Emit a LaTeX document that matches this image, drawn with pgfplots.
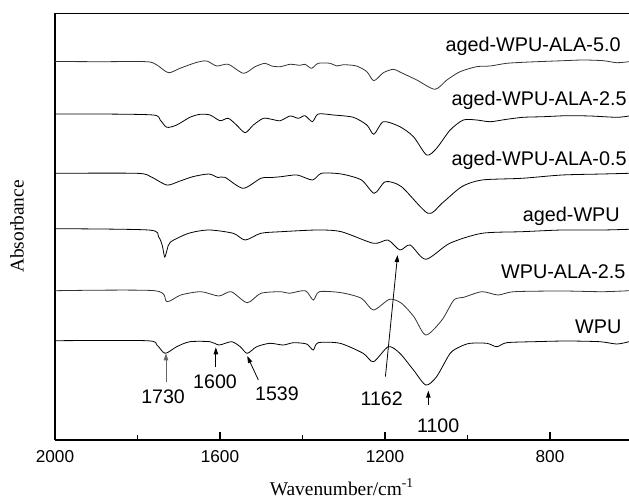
\documentclass[border=0pt]{standalone}
\usepackage{pgfplots}
\pgfplotsset{compat=1.18}
\usepackage{fontspec}
\setmainfont{Liberation Sans}
\newfontfamily\timesfont{Liberation Serif}
\usetikzlibrary{arrows.meta}
\begin{document}
\begin{tikzpicture}
\begin{axis}[
  scale only axis,
  width=287pt, height=213pt,
  x dir=reverse,
  xmin=608.5, xmax=2000,
  ymin=0, ymax=426,
  axis x line*=bottom,
  axis y line*=left,
  x axis line style={-, line width=1pt},
  y axis line style={-, line width=0.6pt},
  xtick={2000,1600,1200,800},
  minor xtick={1800,1400,1000},
  ytick=\empty,
  tick align=inside,
  major tick length=4pt,
  minor tick length=2.5pt,
  every tick/.style={black, line width=0.6pt},
  xticklabel style={font=\fontsize{8.6}{10}\selectfont, yshift=-2pt},
  /pgf/number format/assume math mode=true,
  /pgf/number format/1000 sep={},
  xlabel={\timesfont Wavenumber/cm\textsuperscript{-1}},
  xlabel style={at={(axis description cs:0.5,-0.112)}, anchor=center, font=\fontsize{9.7}{11}\selectfont},
  ylabel={\timesfont Absorbance},
  ylabel style={at={(axis description cs:-0.066,0.5)}, anchor=center, font=\fontsize{9.7}{11}\selectfont},
  clip=false,
  cycle list={{black!80, solid, line width=0.4pt, mark=none}},
  every axis plot post/.append style={smooth, tension=0.45},
]
\coordinate (SW) at (rel axis cs:0,0);
\coordinate (NE) at (rel axis cs:1,1);
\draw[line width=0.6pt] (rel axis cs:0,1) -- (rel axis cs:1,1);

% aged-WPU-ALA-5.0
\addplot coordinates {(2000,378) (1891,377.8) (1778,377.8) (1753,374.5) (1725,366.8) (1697,371.2) (1656,377.2) (1632,378.5) (1608,373.5) (1580,375.2) (1543,366.2) (1515,372.8) (1491,376.2) (1475,373.5) (1454,372.8) (1430,375.2) (1406,374.2) (1394,375.2) (1378,371.2) (1362,376.2) (1333,376.2) (1317,373.5) (1301,374.8) (1269,373.5) (1244,367.8) (1227,358.8) (1204,366.8) (1180,370.2) (1164,367.5) (1123,359.5) (1079,350.2) (1050,359.5) (1018,367.8) (978,372.8) (945,373.5) (905,376.2) (865,377.2) (832,377.8) (768,378.8) (719,379.5) (671,378.8) (638,376.8) (608.5,377.8)};
% aged-WPU-ALA-2.5
\addplot coordinates {(2000,325.5) (1891,325.5) (1762,324.5) (1745,319.5) (1729,312.2) (1705,314.5) (1673,322.2) (1648,325.2) (1624,324.5) (1600,318.8) (1580,321.2) (1560,314.5) (1539,306.8) (1519,314.5) (1495,321.2) (1475,320.2) (1454,318.8) (1430,323.5) (1410,321.2) (1394,323.8) (1376,317.8) (1362,325.5) (1325,324.5) (1277,322.2) (1244,314.5) (1227,305.2) (1204,317.8) (1164,312.8) (1131,302.8) (1099,284.5) (1075,291.2) (1042,309.5) (1010,319.5) (978,319.5) (945,317.8) (905,320.2) (865,322.2) (816,322.8) (760,323.8) (703,323.5) (638,322.2) (608.5,323.5)};
% aged-WPU-ALA-0.5
\addplot coordinates {(2000,266.2) (1802,266.2) (1768,262.8) (1729,254.5) (1700,258) (1666,262.8) (1627,265.5) (1605,262) (1588,262.2) (1544,251.2) (1501,261.2) (1475,262) (1452,262.8) (1413,264.5) (1376,259.5) (1354,266.2) (1306,265.5) (1257,259.5) (1226,246.2) (1199,257.8) (1160,252.8) (1096,226.2) (1062,236.2) (1014,252.8) (965,259.5) (868,261.2) (771,264.5) (673,265.5) (608.5,266.2)};
% aged-WPU
\addplot coordinates {(2000,210.8) (1773,209.5) (1749,202.8) (1740,194) (1734,182.5) (1728,190) (1720,197.5) (1676,206.2) (1627,209.5) (1568,206.2) (1539,199.5) (1501,206.2) (1452,207.8) (1364,209.5) (1306,207.8) (1228,196.2) (1193,199.5) (1164,189.5) (1139,194.5) (1101,180.2) (1043,196.2) (965,206.2) (868,207.8) (771,209.5) (674,209.5) (608.5,210.2)};
% WPU-ALA-2.5
\addplot coordinates {(2000,148.8) (1758,148.8) (1729,137.8) (1695,144.5) (1646,147.8) (1603,143.5) (1573,147.8) (1534,136.8) (1501,146.2) (1452,147.8) (1432,146.2) (1393,148.8) (1374,139.5) (1359,147.8) (1306,146.8) (1257,141.2) (1228,129.5) (1189,140.2) (1160,136.2) (1130,122.8) (1101,104.5) (1062,119.5) (1033,139.5) (1009,142.2) (965,147.8) (926,144.5) (887,147.8) (771,148.5) (673,147.8) (608.5,148.8)};
% WPU
\addplot coordinates {(2000,98.8) (1778,98.8) (1753,94.5) (1733,86.2) (1705,92.8) (1673,97.8) (1624,97.8) (1602,94.5) (1572,97.8) (1551,92.8) (1534,86.2) (1511,92.8) (1479,96.2) (1447,94.5) (1422,96.8) (1390,95.5) (1374,89.5) (1362,96.8) (1309,96.2) (1253,86.2) (1228,77.8) (1192,92.8) (1164,86.2) (1131,69.5) (1101,54.5) (1075,62.8) (1042,86.2) (1018,92.8) (994,96.2) (953,96.2) (929,92.8) (905,96.8) (840,97.8) (760,98.5) (679,97.8) (638,95.5) (608.5,97.8)};

% series labels
\begin{scope}[every node/.style={font=\fontsize{9.9}{11}\selectfont, inner sep=0pt, anchor=east}]
\node at (628,392.8) {aged-WPU-ALA-5.0};
\node at (613.5,339.5) {aged-WPU-ALA-2.5};
\node at (613.5,279.5) {aged-WPU-ALA-0.5};
\node at (630,222.8) {aged-WPU};
\node at (616,167.8) {WPU-ALA-2.5};
\node at (626,112.8) {WPU};
\end{scope}

% peak annotations
\begin{scope}[every node/.style={font=\fontsize{9.8}{11}\selectfont, inner sep=0pt}]
\node at (1738,42.8) {1730};
\node at (1612,57.8) {1600};
\node at (1462,46.2) {1539};
\node at (1208,41.2) {1162};
\node at (1071,13.5) {1100};
\end{scope}
\begin{scope}[line width=0.4pt, -{Triangle[length=3.5pt,width=2.2pt]}]
\draw[black!60] (1731,57.8) -- (1731,86.2);
\draw (1610,72.8) -- (1610,92.2);
\draw (1507,59.5) -- (1534,83.5);
\draw (1199,62.8) -- (1169.5,184.5);
\draw (1095,34.5) -- (1095,49);
\end{scope}
\end{axis}
\pgfresetboundingbox
\path ([shift={(-27.5pt,-29.25pt)}]SW) rectangle ([shift={(0pt,6.75pt)}]NE);
\end{tikzpicture}
\end{document}
